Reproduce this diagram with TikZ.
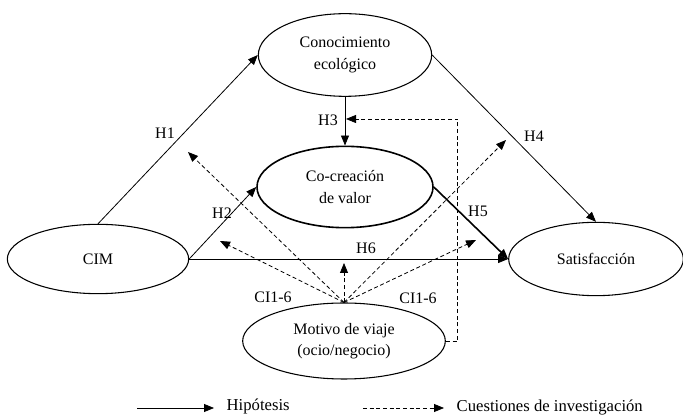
\documentclass[tikz,border=0pt]{standalone}
\usepackage{fontspec}
\setmainfont{Liberation Serif}
\usetikzlibrary{arrows.meta,shapes.geometric}

\begin{document}
\begin{tikzpicture}[x=0.75pt, y=-0.75pt,
    construct/.style={draw, ellipse, line width=0.8pt, inner sep=0pt, align=center,
      font=\fontsize{12}{16}\selectfont},
    hyp/.style={line width=0.6pt, -{Triangle[length=7.5pt, width=6pt]}},
    rq/.style={line width=0.6pt, dash pattern=on 3pt off 2pt, -{Triangle[length=7.5pt, width=6pt]}},
    lbl/.style={font=\fontsize{12}{14}\selectfont},
    legend/.style={font=\fontsize{12.5}{15}\selectfont, right}]
    \useasboundingbox (0,0) rectangle (683,416);

    % Constructs
    \node[construct, minimum width=130pt, minimum height=62pt] (conoc) at (345,55) {Conocimiento\\ecológico};
    \node[construct, line width=1.2pt, minimum width=132pt, minimum height=61pt] (cocre) at (345,187) {Co-creación\\de valor};
    \node[construct, minimum width=136pt, minimum height=52pt] (cim) at (98,259) {CIM};
    \node[construct, minimum width=131pt, minimum height=55pt] (sat) at (596,259) {Satisfacción};
    \node[construct, minimum width=152pt, minimum height=57pt] (motivo) at (344,341) {Motivo de viaje\\(ocio/negocio)};

    % Hypotheses
    \draw[hyp] (cim.north) -- (conoc.west);
    \draw[hyp] (cim.east) -- (cocre.west);
    \draw[hyp] (conoc.south) -- (cocre.north);
    \draw[hyp] (conoc.east) -- (sat.north);
    \draw[hyp, line width=1.2pt] (cocre.east) -- (sat.west);
    \draw[hyp] (cim.east) -- (sat.west);

    \node[lbl] (h1) at (165,133) {H1};
    \node[lbl] (h2) at (222,213) {H2};
    \node[lbl] (h3) at (328,120) {H3};
    \node[lbl] (h4) at (534,136) {H4};
    \node[lbl] (h5) at (478,211) {H5};
    \node[lbl] (h6) at (366,248) {H6};

    % Research questions (moderation)
    \coordinate (m1) at (188,152);
    \coordinate (m2) at (220,241);
    \coordinate (m3) at (344,263);
    \coordinate (m4) at (476,240);
    \coordinate (m5) at (506,140);
    \coordinate (m6) at (346,119);
    \foreach \m in {m1,m2,m3,m4,m5}
    \draw[rq] (motivo.north) -- (\m);
    \draw[rq] (motivo.east) -- ++(12,0) |- (m6);

    \node[lbl] (ci1) at (273,297) {CI1-6};
    \node[lbl] (ci2) at (418,298) {CI1-6};

    % Legend
    \coordinate (la) at (137,408);
    \coordinate (lb) at (214,408);
    \coordinate (lc) at (363,408);
    \coordinate (ld) at (444,408);
    \draw[hyp] (la) -- (lb);
    \draw[rq] (lc) -- (ld);
    \node[legend] (lhyp) at (222,406) {Hipótesis};
    \node[legend] (lrq) at (452,408) {Cuestiones de investigación};
  \end{tikzpicture}
\end{document}
